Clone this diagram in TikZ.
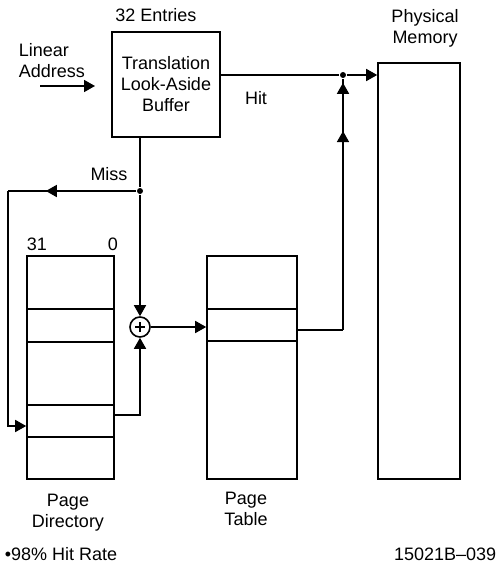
\documentclass[tikz,border=0pt]{standalone}
\usepackage{fontspec}
\setmainfont{Liberation Sans}
\usetikzlibrary{arrows.meta,decorations.markings}
\begin{document}
\begin{tikzpicture}[x=1pt,y=-1pt,line width=1.6pt,
  box/.style={draw,rectangle,inner sep=0pt,line width=1.6pt},
  lbl/.style={font=\fontsize{18}{21}\selectfont,inner sep=0pt},
  arr/.style={-{Triangle[length=11pt,width=12pt]}},
  midarr/.style={postaction={decorate,decoration={markings,mark=at position #1 with {\arrow{Triangle[length=11pt,width=12pt]}}}}},
  jdot/.style={circle,fill,inner sep=0pt,minimum size=6pt}]
\useasboundingbox (0,0) rectangle (498,564);
% boxes
\node[box,lbl,minimum width=108pt,minimum height=105pt,align=center] (tlb) at (166,84.5) {Translation\\Look-Aside\\Buffer};
\node[box,minimum width=82pt,minimum height=416pt] (pm) at (419,271) {};
\node[box,minimum width=87pt,minimum height=223pt] (pd) at (70.5,367.5) {};
\node[box,minimum width=90pt,minimum height=223pt] (pt) at (252,367.5) {};
% rows
\draw (27,309) -- (114,309);
\draw (27,342) -- (114,342);
\draw (27,405) -- (114,405);
\draw (27,437) -- (114,437);
\draw (207,309) -- (297,309);
\draw (207,341) -- (297,341);
% adder
\node[circle,draw,minimum size=20pt,inner sep=0pt,line width=1.6pt] (add) at (140,327) {};
\draw[line width=1.1pt] ([xshift=-5pt]add.center) -- ([xshift=5pt]add.center);
\draw[line width=1.1pt] ([yshift=-5pt]add.center) -- ([yshift=5pt]add.center);
% junctions
\node[jdot] (jm) at (140,191) {};
\node[jdot] (jh) at (343,75) {};
\coordinate (la1) at (40,86);
\coordinate (la2) at (95,86);
\coordinate (mc) at (8,191);
\coordinate (mb) at (8,426);
\coordinate (do) at (140,415);
\coordinate (po) at (343,330);
% connectors
\draw[arr] (la1) -- (la2);
\draw (tlb.east |- jh) -- (jh);
\draw[arr] (jh) -- (pm.west |- jh);
\draw (tlb.south -| jm) -- (jm);
\draw[midarr=0.705] (jm) -- (mc);
\draw[arr] (mc) -- (mb) -- (pd.west |- mb);
\draw[arr] (jm) -- (add.north);
\draw[arr] (pd.east |- do) -- (do) -- (add.south);
\draw[arr] (add.east) -- (pt.west |- add);
\draw (pt.east |- po) -- (po);
\draw[midarr=0.792,midarr=0.984] (po) -- (jh);
% labels
\node[lbl,anchor=base] (ent) at (156,22) {32 Entries};
\node[lbl,align=left,anchor=west] (lin) at (18,61) {Linear\\Address};
\node[lbl,align=center] (phy) at (425,28.5) {Physical\\Memory};
\node[lbl,anchor=base] (hit) at (256,105) {Hit};
\node[lbl,anchor=base] (miss) at (109,180) {Miss};
\node[lbl,anchor=base] (b31) at (37,250) {31};
\node[lbl,anchor=base] (b0) at (113,250) {0};
\node[lbl,align=center] (pdl) at (68,513) {Page\\Directory};
\node[lbl,align=center] (ptl) at (246,508.5) {Page\\Table};
\node[lbl,anchor=base west] (rate) at (4,560) {\textbullet 98\% Hit Rate};
\node[lbl,anchor=base east] (fig) at (497,560) {15021B–039};
\end{tikzpicture}
\end{document}
